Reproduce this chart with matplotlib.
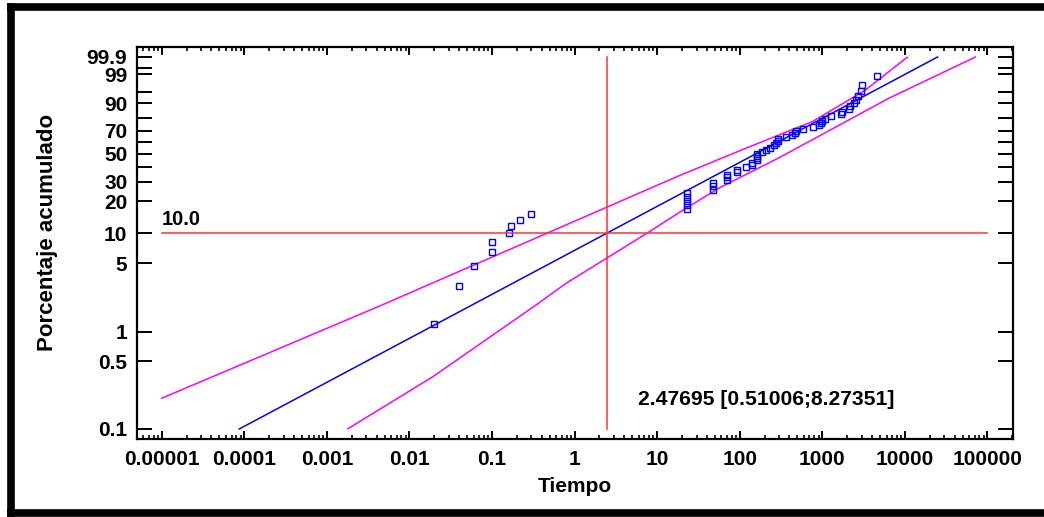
import numpy as np
import matplotlib
matplotlib.use('Agg')
import matplotlib.pyplot as plt
from matplotlib.ticker import FixedLocator, FixedFormatter, LogLocator, NullFormatter

plt.rcParams['font.family'] = ['Liberation Sans', 'DejaVu Sans']
plt.rcParams['font.weight'] = 'bold'

# tiempos observados (ordenados)
tiempos = [0.02, 0.04, 0.06, 0.1, 0.1, 0.16, 0.17, 0.22, 0.3,
           23, 23, 23, 23, 23,
           47, 47, 47,
           70, 70, 70,
           93, 93,
           119,
           141, 141,
           163, 163, 163, 163,
           185, 207, 231, 261, 273, 294, 294, 367, 426, 468,
           476, 584, 771, 912, 955, 1000, 1078, 1262, 1698, 1746,
           2102, 2142, 2416, 2531, 2702, 2911, 2991, 4584]

# ajuste Weibull
forma = 0.4539
escala = 352.5

# limites de confianza (tiempo, porcentaje)
sup_t = [1e-5, 0.004365, 18.5, 118.6, 757, 3350, 6397, 10670]
sup_p = [0.2077, 1.844, 33.73, 54.61, 77.37, 95.74, 99.24, 99.895]
inf_t = [0.0018, 0.0192, 0.342, 0.789, 8.05, 18.5, 56.4, 300, 750, 6397, 71600]
inf_p = [0.1007, 0.346, 1.89, 3.14, 10.3, 15.78, 26.46, 46.8, 61.8, 92.5, 99.9]

pct_ref = 10.0
t_ref = 2.47695
t_ref_lo = 0.51006
t_ref_hi = 8.27351

yticks = [0.1, 0.5, 1, 5, 10, 20, 30, 40, 50, 60, 70, 80, 90, 95, 99, 99.5, 99.9]
ylabels = ['0.1', '0.5', '1', '5', '10', '20', '30', '', '50', '', '70', '', '90', '', '99', '', '99.9']
xticks = [1e-5, 1e-4, 1e-3, 1e-2, 0.1, 1, 10, 100, 1000, 10000, 100000]
xlabels = ['0.00001', '0.0001', '0.001', '0.01', '0.1', '1', '10', '100', '1000', '10000', '100000']


def fwd(p):
    p = np.clip(np.asarray(p, dtype=float), 1e-9, 100 - 1e-9)
    return np.log(-np.log1p(-p / 100.0))


def inv(w):
    return -100.0 * np.expm1(-np.exp(np.asarray(w, dtype=float)))


n = len(tiempos)
rangos = np.arange(1, n + 1)
pct = (rangos - 0.3) / (n + 0.4) * 100

fig = plt.figure(figsize=(10.44, 5.17), dpi=100)
ax = fig.add_axes([137 / 1044, 1 - 439 / 517, 876 / 1044, 392 / 517])
ax.set_xscale('log')
ax.set_yscale('function', functions=(fwd, inv))

# recta ajustada
p_fit = np.array([yticks[0], yticks[-1]])
t_fit = escala * (-np.log(1 - p_fit / 100)) ** (1 / forma)
ax.plot(t_fit, p_fit, color='#0000ff', lw=1.1)

ax.plot(sup_t, sup_p, color='#ff00ff', lw=1.1)
ax.plot(inf_t, inf_p, color='#ff00ff', lw=1.1)

ax.plot(tiempos, pct, 's', ms=5, mfc='none', mec='#0000ff', mew=1.0)

ax.plot([xticks[0], xticks[-1]], [pct_ref, pct_ref], color='#ff3030', lw=1.1)
ax.plot([t_ref, t_ref], [yticks[0], yticks[-1]], color='#ff3030', lw=1.1)
ax.annotate('%.1f' % pct_ref, (xticks[0], pct_ref), xytext=(0, 3), textcoords='offset points',
            fontsize=14.5, fontweight='bold', ha='left', va='bottom')
ax.text(0.572, 0.0995, '%g [%g;%g]' % (t_ref, t_ref_lo, t_ref_hi), transform=ax.transAxes,
        fontsize=15.2, fontweight='bold', ha='left', va='center')

ax.set_xlim(10 ** -5.3, 10 ** 5.31)
ax.set_ylim(inv(-7.145), inv(2.170))

ax.yaxis.set_major_locator(FixedLocator(yticks))
ax.yaxis.set_major_formatter(FixedFormatter(ylabels))
ax.yaxis.set_minor_locator(FixedLocator([]))
ax.xaxis.set_major_locator(FixedLocator(xticks))
ax.xaxis.set_major_formatter(FixedFormatter(xlabels))
ax.xaxis.set_minor_locator(LogLocator(base=10, subs=np.arange(2, 10), numticks=30))
ax.xaxis.set_minor_formatter(NullFormatter())

ax.tick_params(axis='y', which='major', direction='in', length=11, width=1.4,
               left=True, right=True, labelsize=15, pad=7)
ax.tick_params(axis='x', which='major', direction='in', length=6, width=1.4,
               top=True, bottom=True, labelsize=15, pad=8)
ax.tick_params(axis='x', which='minor', direction='in', length=3, width=1.2,
               top=True, bottom=True)
for s in ax.spines.values():
    s.set_linewidth(1.6)

ax.set_xlabel('Tiempo', fontsize=15, fontweight='bold', labelpad=6)
ax.set_ylabel('Porcentaje acumulado', fontsize=16, fontweight='bold')
ax.yaxis.set_label_coords(-0.090, 0.528)

# marco exterior
fig.add_artist(plt.Line2D([11 / 1044, 11 / 1044], [1 - 6.5 / 517, 1 - 513 / 517], color='black', lw=5.5,
                          transform=fig.transFigure, solid_capstyle='projecting'))
fig.add_artist(plt.Line2D([11 / 1044, 1.05], [1 - 6.5 / 517, 1 - 6.5 / 517], color='black', lw=5.5,
                          transform=fig.transFigure, solid_capstyle='projecting'))
fig.add_artist(plt.Line2D([11 / 1044, 1.05], [1 - 513 / 517, 1 - 513 / 517], color='black', lw=5.5,
                          transform=fig.transFigure, solid_capstyle='projecting'))

fig.savefig('out.png', dpi=100)
